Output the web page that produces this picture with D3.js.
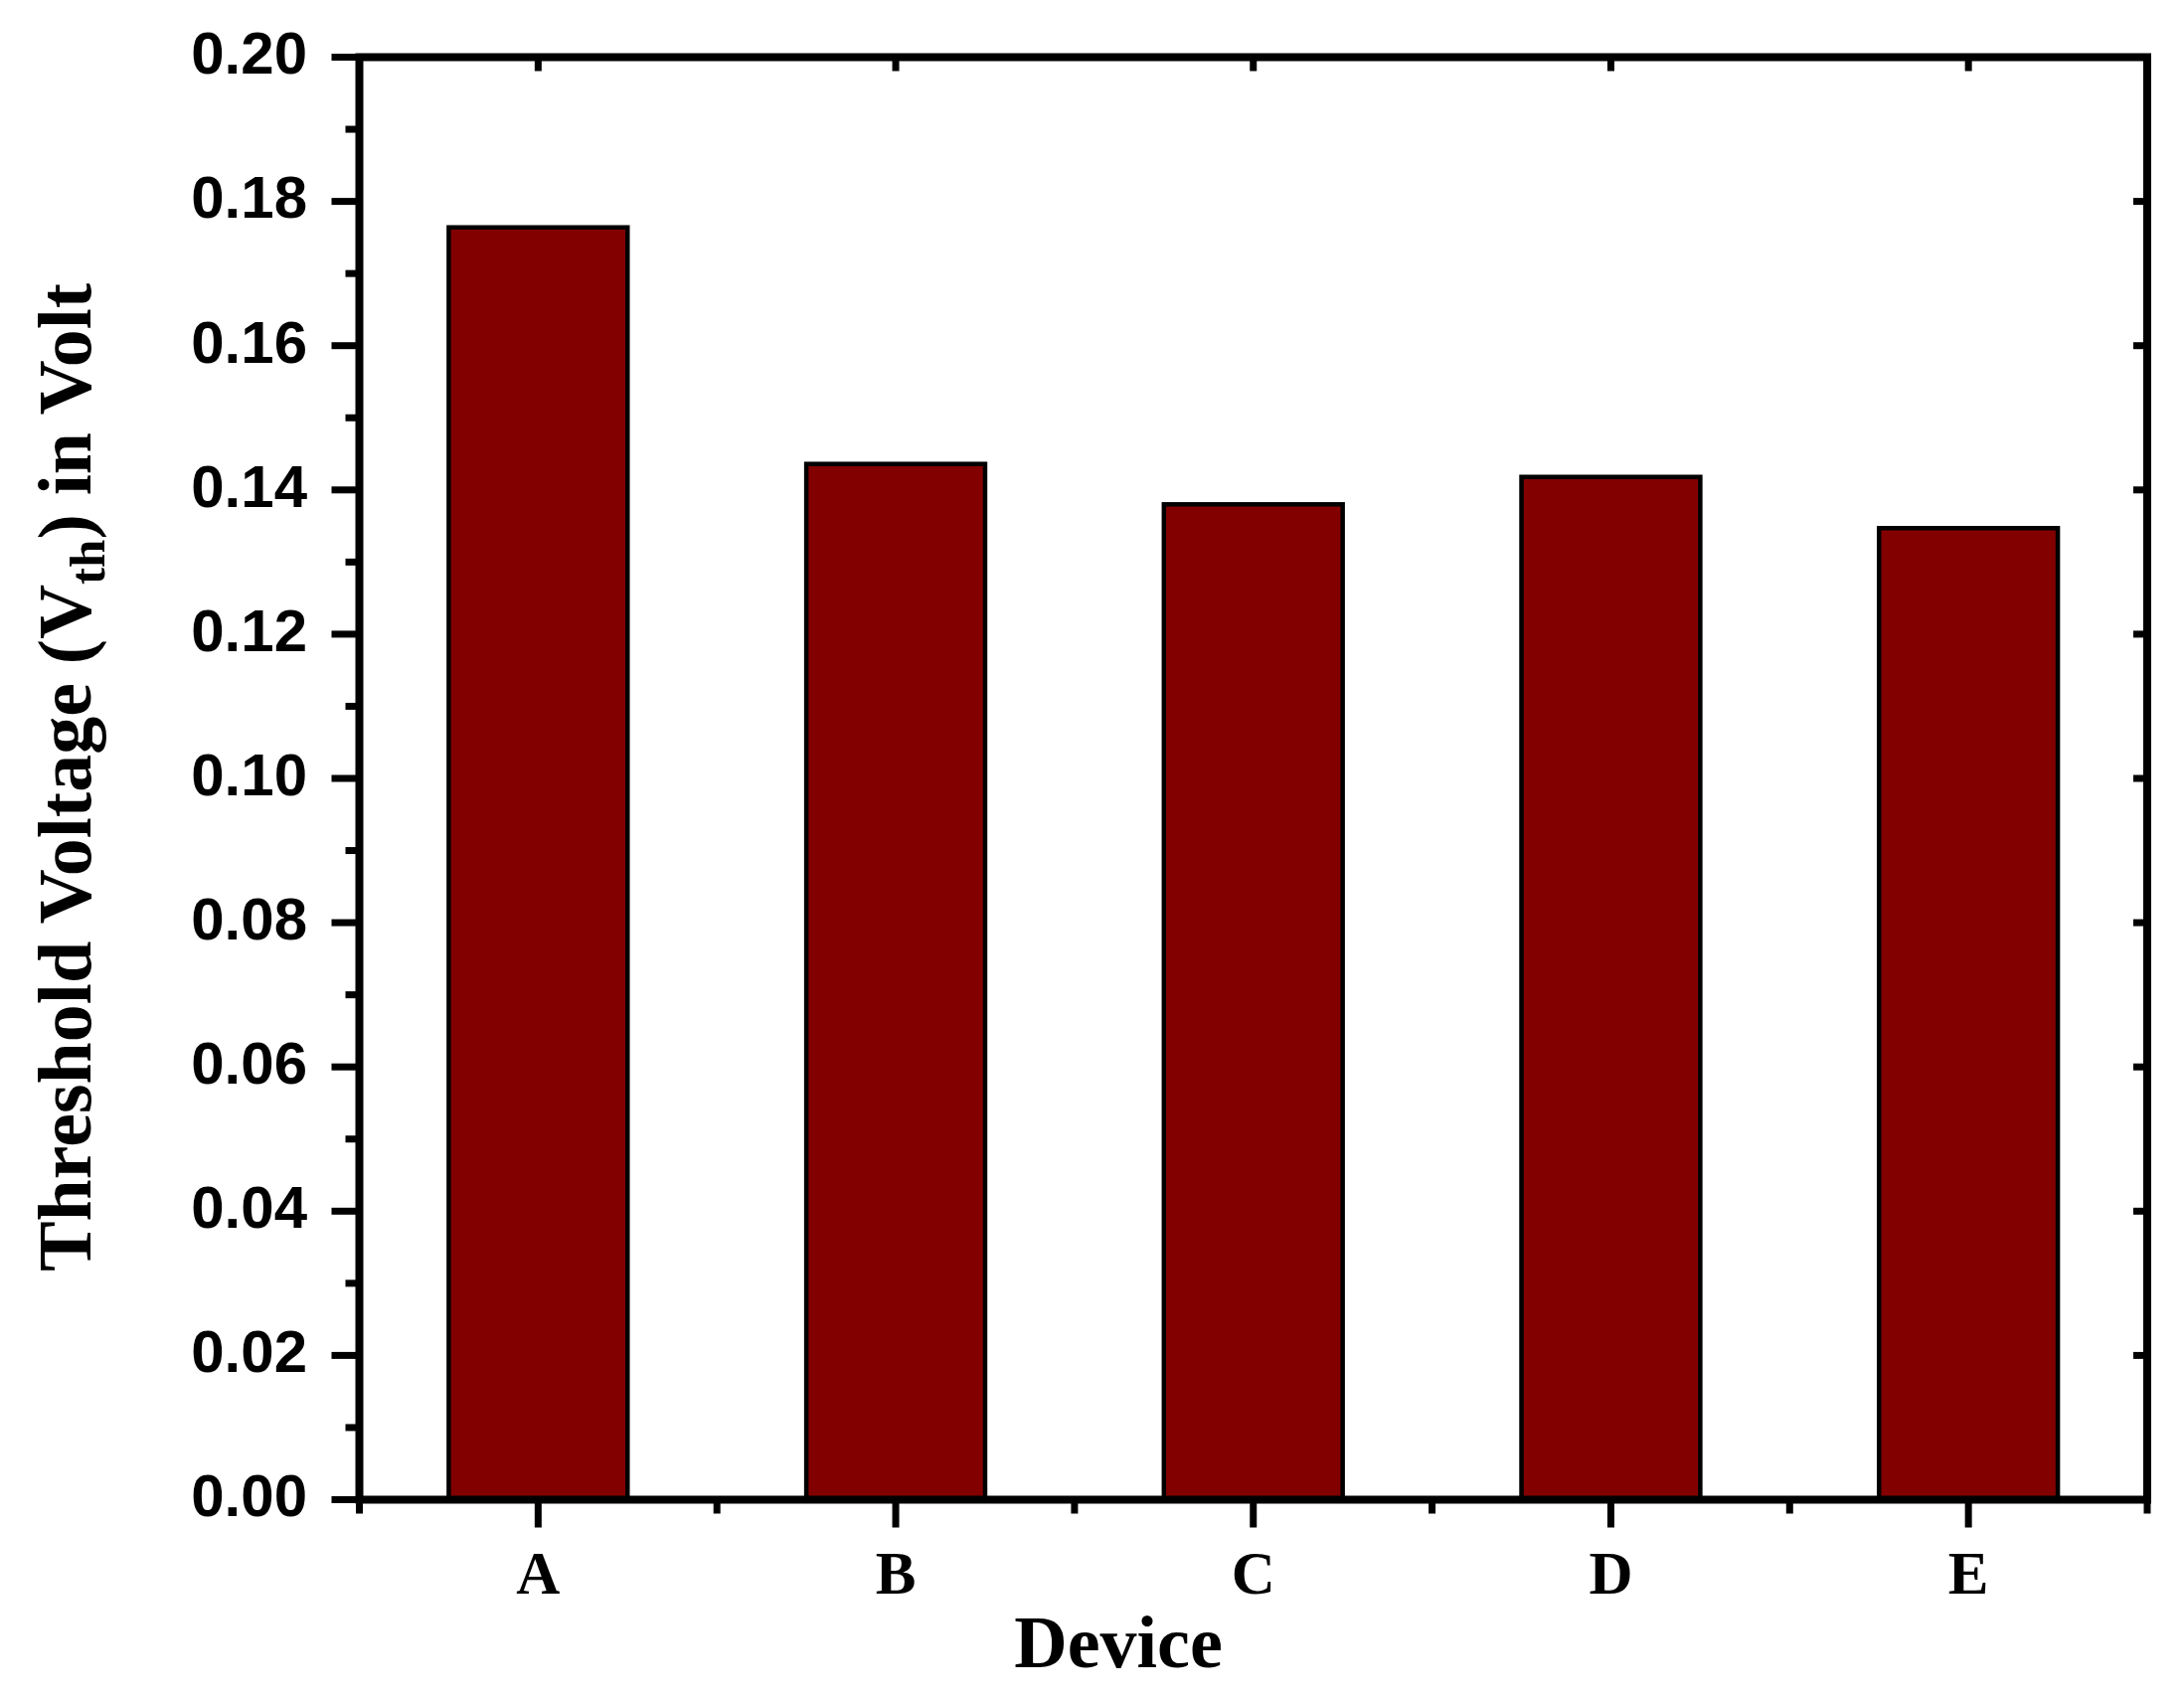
<!DOCTYPE html>
<html>
<head>
<meta charset="utf-8">
<script src="https://cdn.jsdelivr.net/npm/d3@7"></script>
<style>
  html, body { margin: 0; padding: 0; background: #fff; }
  svg { display: block; }
</style>
</head>
<body>
<script>
// ---- data ----
const categories = ["A", "B", "C", "D", "E"];
const values = [0.1764, 0.1436, 0.1380, 0.1418, 0.1347];
const yMajorTicks = [0.00, 0.02, 0.04, 0.06, 0.08, 0.10, 0.12, 0.14, 0.16, 0.18, 0.20];
const yMinorTicks = [0.01, 0.03, 0.05, 0.07, 0.09, 0.11, 0.13, 0.15, 0.17, 0.19];
const xTitle = "Device";

const W = 2197, H = 1710;
const L = 361.5, R = 2160, T = 57.5, B = 1508.5;

const svg = d3.select("body").append("svg").attr("width", W).attr("height", H);

const x = d3.scaleBand().domain(categories).range([L, R]).paddingInner(0.5).paddingOuter(0.25);
const y = d3.scaleLinear().domain([0, 0.2]).range([B, T]);

// bars
svg.append("g").selectAll("rect").data(values).join("rect")
  .attr("x", (d, i) => x(categories[i]))
  .attr("width", x.bandwidth())
  .attr("y", d => y(d))
  .attr("height", d => y(0) - y(d))
  .attr("fill", "#830000")
  .attr("stroke", "#000")
  .attr("stroke-width", 4.5);

const tickW = 7;
const g = svg.append("g").attr("stroke", "#000").attr("stroke-width", tickW);

// left axis ticks (outward)
g.selectAll(".ly").data(yMajorTicks).join("line")
  .attr("x1", L - 28).attr("x2", L).attr("y1", d => y(d)).attr("y2", d => y(d));
g.selectAll(".lym").data(yMinorTicks).join("line")
  .attr("x1", L - 14).attr("x2", L).attr("y1", d => y(d)).attr("y2", d => y(d));
// right axis ticks (inward, major only)
g.selectAll(".ry").data(yMajorTicks).join("line")
  .attr("x1", R - 14).attr("x2", R).attr("y1", d => y(d)).attr("y2", d => y(d));

// bottom axis ticks
const centers = categories.map(c => x(c) + x.bandwidth() / 2);
const bounds = [x(categories[0]) + x.bandwidth() / 2 - x.step() / 2]
  .concat(centers.map(c => c + x.step() / 2));
g.selectAll(".bx").data(centers).join("line")
  .attr("x1", d => d).attr("x2", d => d).attr("y1", B).attr("y2", B + 28);
g.selectAll(".bxm").data(bounds).join("line")
  .attr("x1", d => d).attr("x2", d => d).attr("y1", B).attr("y2", B + 14);
// top axis ticks (inward at categories)
g.selectAll(".tx").data(centers).join("line")
  .attr("x1", d => d).attr("x2", d => d).attr("y1", T).attr("y2", T + 14);

// frame
svg.append("rect")
  .attr("x", L).attr("y", T).attr("width", R - L).attr("height", B - T)
  .attr("fill", "none").attr("stroke", "#000").attr("stroke-width", 8)
  .attr("stroke-linejoin", "miter");

// y tick labels
svg.append("g").selectAll("text").data(yMajorTicks).join("text")
  .attr("x", 309).attr("y", d => y(d)).attr("dy", "0.28em")
  .attr("text-anchor", "end")
  .attr("font-family", "'Liberation Sans', Arial, sans-serif")
  .attr("font-weight", "bold").attr("font-size", 60)
  .text(d => d.toFixed(2));

// x tick labels
svg.append("g").selectAll("text").data(categories).join("text")
  .attr("x", c => x(c) + x.bandwidth() / 2).attr("y", 1603)
  .attr("text-anchor", "middle")
  .attr("font-family", "'Liberation Serif', 'Times New Roman', serif")
  .attr("font-weight", "bold").attr("font-size", 61)
  .text(c => c);

// x title
svg.append("text")
  .attr("x", 1125).attr("y", 1677)
  .attr("text-anchor", "middle")
  .attr("font-family", "'Liberation Serif', 'Times New Roman', serif")
  .attr("font-weight", "bold").attr("font-size", 74)
  .text(xTitle);

// y title
const yt = svg.append("text")
  .attr("transform", "translate(91,782) rotate(-90)")
  .attr("text-anchor", "middle")
  .attr("font-family", "'Liberation Serif', 'Times New Roman', serif")
  .attr("font-weight", "bold").attr("font-size", 76);
yt.append("tspan").text("Threshold Voltage (V");
yt.append("tspan").attr("font-size", 51).attr("dy", 14).text("th");
yt.append("tspan").attr("dy", -14).text(") in Volt");
</script>
</body>
</html>
